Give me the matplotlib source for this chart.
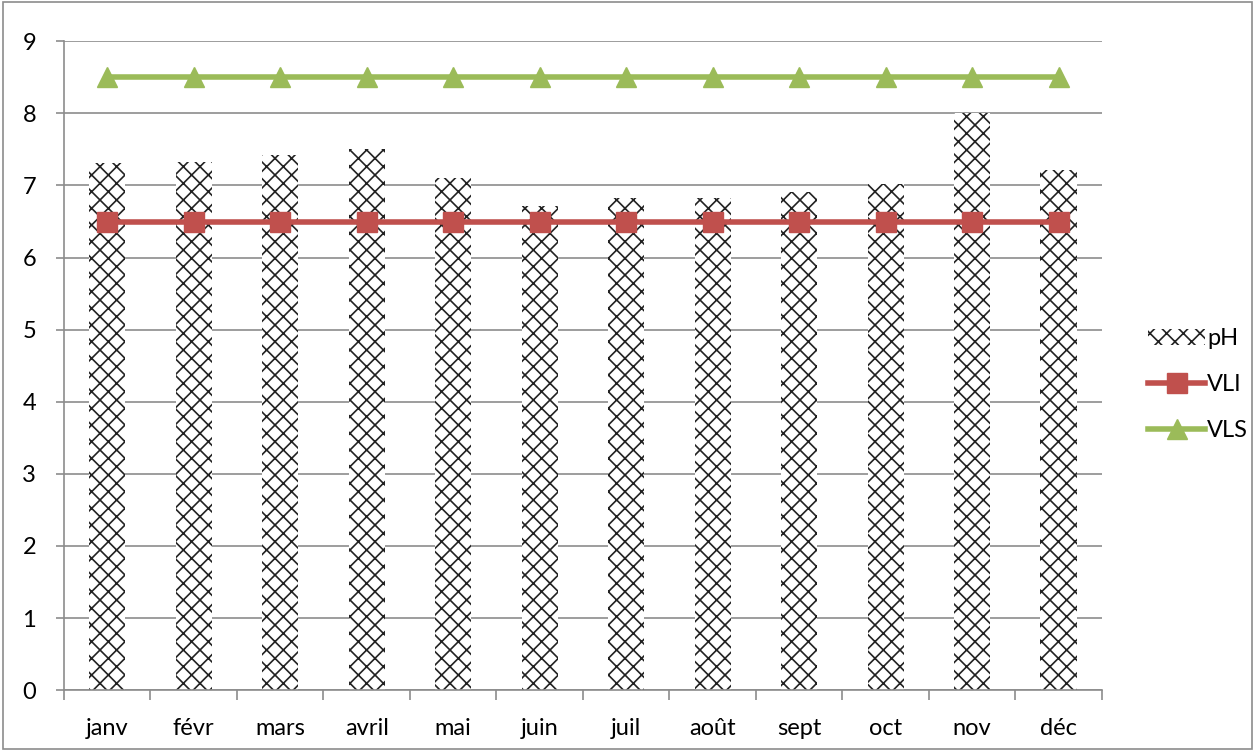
import matplotlib.pyplot as plt
import numpy as np
from matplotlib.patches import Rectangle

plt.rcParams['font.family'] = ['Lato', 'DejaVu Sans']
plt.rcParams['hatch.linewidth'] = 1.2

months = ['janv', 'févr', 'mars', 'avril', 'mai', 'juin', 'juil', 'août', 'sept', 'oct', 'nov', 'déc']
ph = [7.31, 7.33, 7.42, 7.5, 7.11, 6.72, 6.82, 6.82, 6.91, 7.02, 8.0, 7.22]
vli = [6.5] * 12
vls = [8.5] * 12

fig = plt.figure(figsize=(12.55, 7.51), dpi=100)
ax = fig.add_axes([0.051, 0.081, 0.827, 0.864])

x = np.arange(len(months))
grid_c = '#8c8c8c'

bars = ax.bar(x, ph, width=0.42, color='white', edgecolor='#222222', hatch='xx', linewidth=0, label='pH', zorder=2)
l1, = ax.plot(x, vli, color='#C0504D', lw=4, marker='s', ms=14, label='VLI', zorder=3)
l2, = ax.plot(x, vls, color='#9BBB59', lw=4, marker='^', ms=14, label='VLS', zorder=3)

ax.set_xlim(-0.5, len(months) - 0.5)
ax.set_ylim(0, 9)
ax.set_yticks(range(0, 10))
ax.yaxis.grid(True, color=grid_c, lw=1.2, zorder=0)
ax.set_axisbelow(True)

ax.set_xticks(x)
ax.set_xticklabels(months)
ax.set_xticks(np.arange(-0.5, len(months), 1), minor=True)
ax.tick_params(axis='x', which='major', length=0, pad=20, labelsize=17)
ax.tick_params(axis='x', which='minor', length=7, color=grid_c, width=1.2, direction='out')
ax.tick_params(axis='y', length=6, color=grid_c, width=1.2, labelsize=17, pad=14)

for s in ['top', 'right']:
    ax.spines[s].set_visible(False)
for s in ['left', 'bottom']:
    ax.spines[s].set_color(grid_c)
    ax.spines[s].set_linewidth(1.2)

fig.legend([bars, l1, l2], ['pH', 'VLI', 'VLS'], loc='center left', bbox_to_anchor=(0.898, 0.488),
           frameon=False, fontsize=17, handlelength=2.4, labelspacing=1.05, handletextpad=0.1)

fig.patches.append(Rectangle((0.002, 0.002), 0.996, 0.996, transform=fig.transFigure,
                             fill=False, edgecolor=grid_c, lw=1.2))

fig.savefig('out.png', dpi=100)
